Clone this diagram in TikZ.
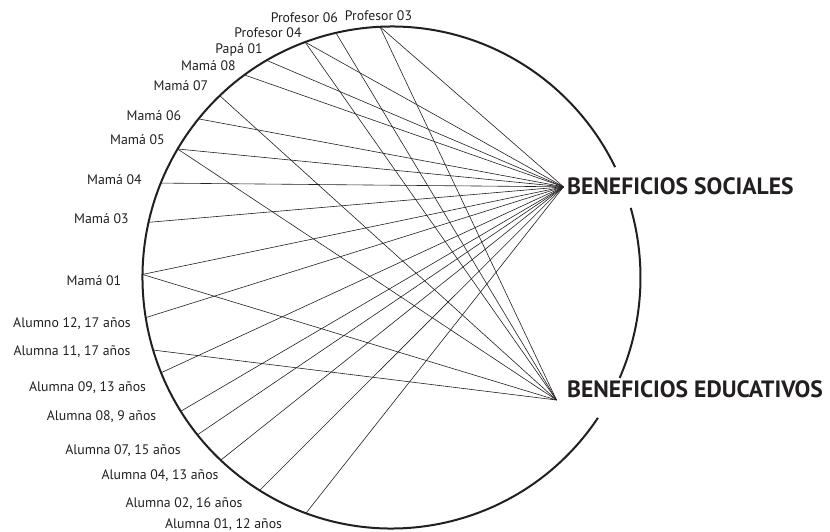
\documentclass[tikz,border=0pt]{standalone}
\usepackage{fontspec}
\setmainfont{PT Sans}
\definecolor{ink}{HTML}{231F20}
\begin{document}
\begin{tikzpicture}[x=1pt,y=-1pt,
  lab/.style={font=\fontsize{13.8}{16}\selectfont, text=ink, inner sep=0pt, anchor=base},
  big/.style={font=\fontsize{23.6}{28}\selectfont\bfseries, text=ink, inner sep=0pt, anchor=base west},
  conn/.style={draw=ink, line width=0.6pt},
  rim/.style={draw=ink, line width=2pt}]
\useasboundingbox (0,0) rectangle (830,531);
\coordinate (c) at (391.5,277.5);
% rim with gaps behind the two category labels
\draw[rim] (c) ++(34:249 and 251) arc[start angle=34, end angle=333.9, x radius=249, y radius=251];
\draw[rim] (c) ++(-16.1:249 and 251) arc[start angle=-16.1, end angle=23.6, x radius=249, y radius=251];
% points on the rim
\foreach \n/\a in {p03/267.35, p06/257.1, p04/249.7, pa01/239.9, m08/233.8, m07/226.4,
  m06/219.2, m05/210.8, m04/202.1, m03/192.7, m01/180.7, a12/170.8, a11/163.2,
  a09/157.7, a08/147.8, a07/141.2, a04/133.3, a02/122.0, a01/110.1}
  \path (c) ++(\a:249 and 251) coordinate (\n);
% hubs
\coordinate (hs) at (563.5,186.8);
\coordinate (he) at (556.5,400);
% labels
\node[lab] (lp06) at (304.3,22.5) {Profesor 06};
\node[lab] (lp03) at (378.5,20.7) {Profesor 03};
\node[lab] (lp04) at (268,37.5) {Profesor 04};
\node[lab] (lpa01) at (239,53) {Papá 01};
\node[lab] (lm08) at (208.5,70.5) {Mamá 08};
\node[lab] (lm07) at (181,90.7) {Mamá 07};
\node[lab] (lm06) at (154,120) {Mamá 06};
\node[lab] (lm05) at (137.5,144) {Mamá 05};
\node[lab] (lm04) at (114.5,184) {Mamá 04};
\node[lab] (lm03) at (101.5,223.3) {Mamá 03};
\node[lab] (lm01) at (94,285) {Mamá 01};
\node[lab] (la12) at (72,327.7) {Alumno 12, 17 años};
\node[lab] (la11) at (72,355.7) {Alumna 11, 17 años};
\node[lab] (la09) at (87.5,391.7) {Alumna 09, 13 años};
\node[lab] (la08) at (101.5,420) {Alumna 08, 9 años};
\node[lab] (la07) at (123,454.3) {Alumna 07, 15 años};
\node[lab] (la04) at (160,479.3) {Alumna 04, 13 años};
\node[lab] (la02) at (184,507) {Alumna 02, 16 años};
\node[lab] (la01) at (223.5,528.5) {Alumna 01, 12 años};
\node[big] (bs) at (567,194) {BENEFICIOS SOCIALES};
\node[big] (be) at (567,397) {BENEFICIOS EDUCATIVOS};
% connectors
\foreach \n in {p03,p04,pa01,m08,m06,m05,m04,m03,m01,a12,a09,a08,a07,a04,a02,a01}
  \draw[conn] (\n) -- (hs);
\foreach \n in {p03,p06,p04,m07,m05,m01,a11}
  \draw[conn] (\n) -- (he);
\end{tikzpicture}
\end{document}
